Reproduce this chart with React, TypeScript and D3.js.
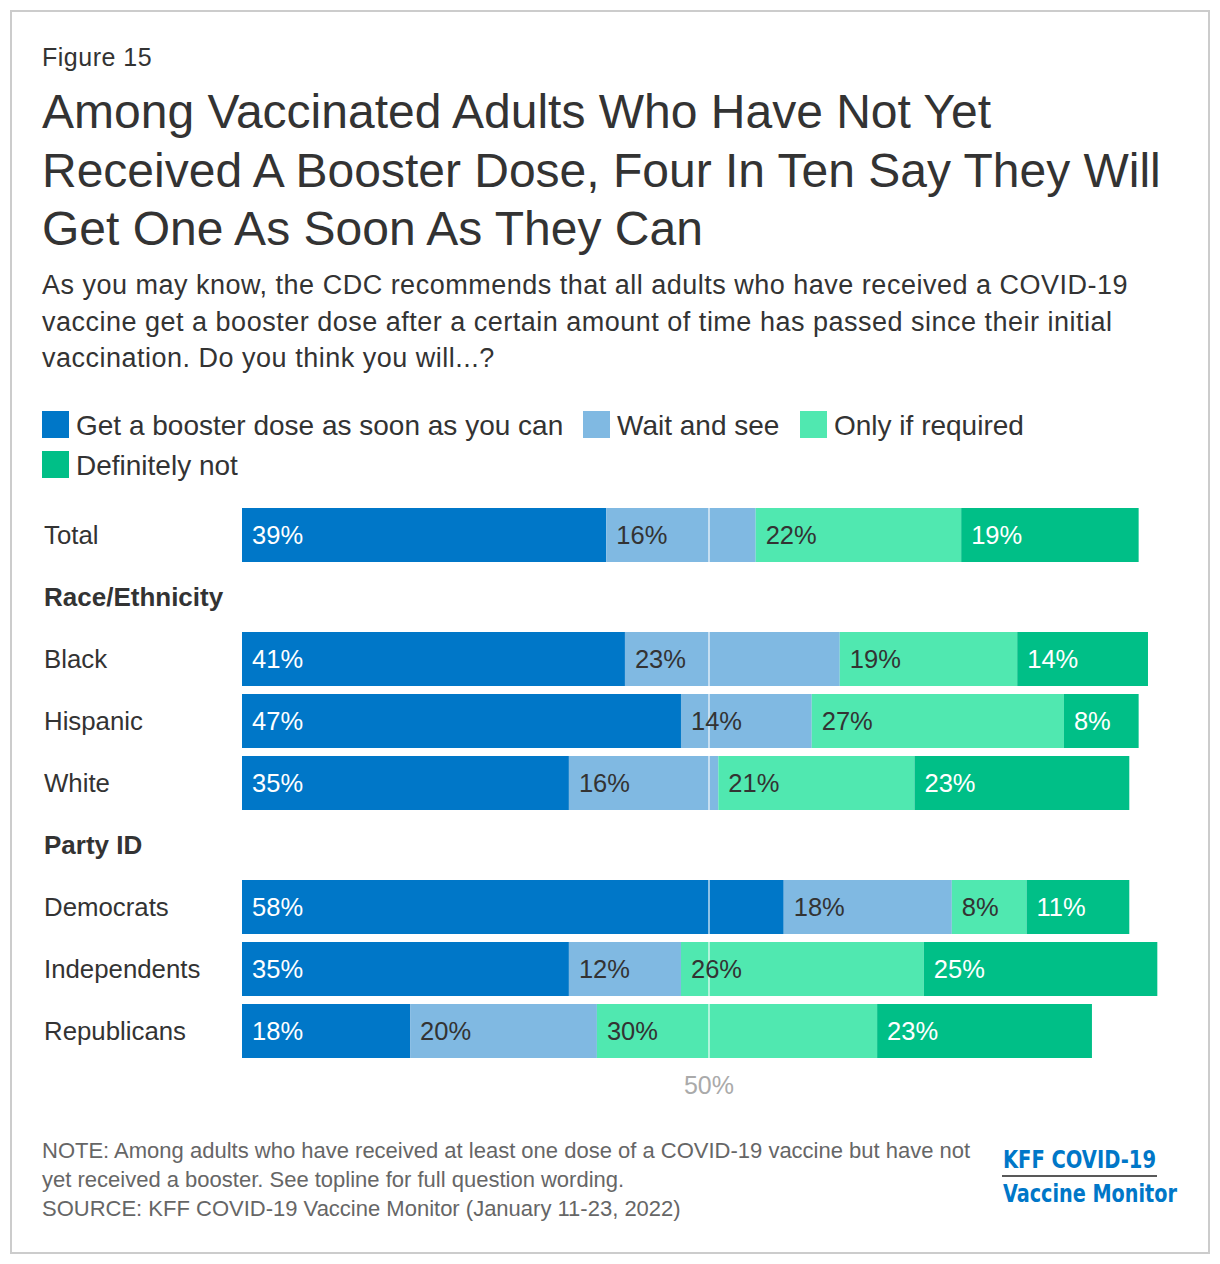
import React from "react";
import * as d3 from "d3";

const categories = ["Total", "Race/Ethnicity", "Black", "Hispanic", "White", "Party ID", "Democrats", "Independents", "Republicans"];
const headerRows = ["Race/Ethnicity", "Party ID"];
const seriesNames = ["Get a booster dose as soon as you can", "Wait and see", "Only if required", "Definitely not"];
const soonValues = [39, null, 41, 47, 35, null, 58, 35, 18];
const waitValues = [16, null, 23, 14, 16, null, 18, 12, 20];
const requiredValues = [22, null, 19, 27, 21, null, 8, 26, 30];
const notValues = [19, null, 14, 8, 23, null, 11, 25, 23];
const seriesValues = [soonValues, waitValues, requiredValues, notValues];
const colors = ["#0077c8", "#80b9e2", "#50e8b0", "#00bf87"];
const labelColors = ["#ffffff", "#333333", "#333333", "#ffffff"];
const refTick = 50;

const titleLines = [
  "Among Vaccinated Adults Who Have Not Yet",
  "Received A Booster Dose, Four In Ten Say They Will",
  "Get One As Soon As They Can",
];
const subtitleLines = [
  "As you may know, the CDC recommends that all adults who have received a COVID-19",
  "vaccine get a booster dose after a certain amount of time has passed since their initial",
  "vaccination. Do you think you will...?",
];
const noteLines = [
  "NOTE: Among adults who have received at least one dose of a COVID-19 vaccine but have not",
  "yet received a booster. See topline for full question wording.",
  "SOURCE: KFF COVID-19 Vaccine Monitor (January 11-23, 2022)",
];

const FONT = "'Liberation Sans', Arial, Helvetica, sans-serif";

export default function App() {
  const W = 1220, H = 1264;
  const x = d3.scaleLinear().domain([0, 100]).range([242, 1176]);
  const y = d3.scaleBand().domain(categories).range([508, 508 + 62 * categories.length - 8]).paddingInner(8 / 62).paddingOuter(0);
  const bw = y.bandwidth();

  const stackData = categories.map((c, i) => {
    let acc = 0;
    return seriesValues.map((vals, s) => {
      const v = vals[i];
      const start = acc;
      acc += v ?? 0;
      return { cat: c, s, v, start, end: acc };
    });
  });

  const legendItems = [
    { x: 42, y: 411 },
    { x: 583, y: 411 },
    { x: 800, y: 411 },
    { x: 42, y: 451 },
  ];

  return (
    <div style={{ position: "absolute", left: 0, top: 0 }}>
      <svg width={W} height={H} style={{ display: "block", fontFamily: FONT }}>
        <rect x={0} y={0} width={W} height={H} fill="#fff" />
        <rect x={11} y={11} width={1198} height={1242} fill="#fff" stroke="#cccccc" strokeWidth={2} />
        <text x={42} y={66} fontSize={25} letterSpacing={0.5} fill="#333">Figure 15</text>
        {titleLines.map((t, i) => (
          <text key={i} x={42} y={128 + i * 58.5} fontSize={48} fill="#333">{t}</text>
        ))}
        {subtitleLines.map((t, i) => (
          <text key={i} x={42} y={294 + i * 36.5} fontSize={27} letterSpacing={0.5} fill="#333">{t}</text>
        ))}
        {seriesNames.map((n, i) => (
          <g key={n}>
            <rect x={legendItems[i].x} y={legendItems[i].y} width={27} height={27} fill={colors[i]} />
            <text x={legendItems[i].x + 34} y={legendItems[i].y + 24} fontSize={28} fill="#333">{n}</text>
          </g>
        ))}
        {categories.map((c) => {
          const isHeader = headerRows.includes(c);
          return (
            <text key={c} x={44} y={(y(c) as number) + bw / 2 + 9} fontSize={isHeader ? 26 : 25.8} fontWeight={isHeader ? "bold" : "normal"} fill="#333">{c}</text>
          );
        })}
        {stackData.map((row) =>
          row.map((d) =>
            d.v == null ? null : (
              <rect key={d.cat + d.s} x={x(d.start)} y={y(d.cat)} width={x(d.end) - x(d.start)} height={bw} fill={colors[d.s]} />
            )
          )
        )}
        <line x1={x(refTick)} x2={x(refTick)} y1={y(categories[0])} y2={(y(categories[categories.length - 1]) as number) + bw} stroke="#ffffff" strokeOpacity={0.55} strokeWidth={2} />
        {stackData.map((row) =>
          row.map((d) =>
            d.v == null ? null : (
              <text key={"l" + d.cat + d.s} x={x(d.start) + 10} y={(y(d.cat) as number) + bw / 2 + 9} fontSize={25.5} fill={labelColors[d.s]}>{d.v}%</text>
            )
          )
        )}
        <text x={x(refTick)} y={1094} fontSize={25} fill="#aaaaaa" textAnchor="middle">{refTick}%</text>
        {noteLines.map((t, i) => (
          <text key={i} x={42} y={1158 + i * 29} fontSize={22} fill="#666">{t}</text>
        ))}
        <text x={1003} y={1168} fontSize={25} fontWeight="bold" fill="#0077c8" fontFamily="'DejaVu Sans Condensed', 'DejaVu Sans', sans-serif" textLength={153} lengthAdjust="spacingAndGlyphs">KFF COVID-19</text>
        <line x1={1002} x2={1157} y1={1176} y2={1176} stroke="#222" strokeWidth={1.5} />
        <text x={1003} y={1202} fontSize={25} fontWeight="bold" fill="#0077c8" fontFamily="'DejaVu Sans Condensed', 'DejaVu Sans', sans-serif" textLength={174} lengthAdjust="spacingAndGlyphs">Vaccine Monitor</text>
      </svg>
    </div>
  );
}
